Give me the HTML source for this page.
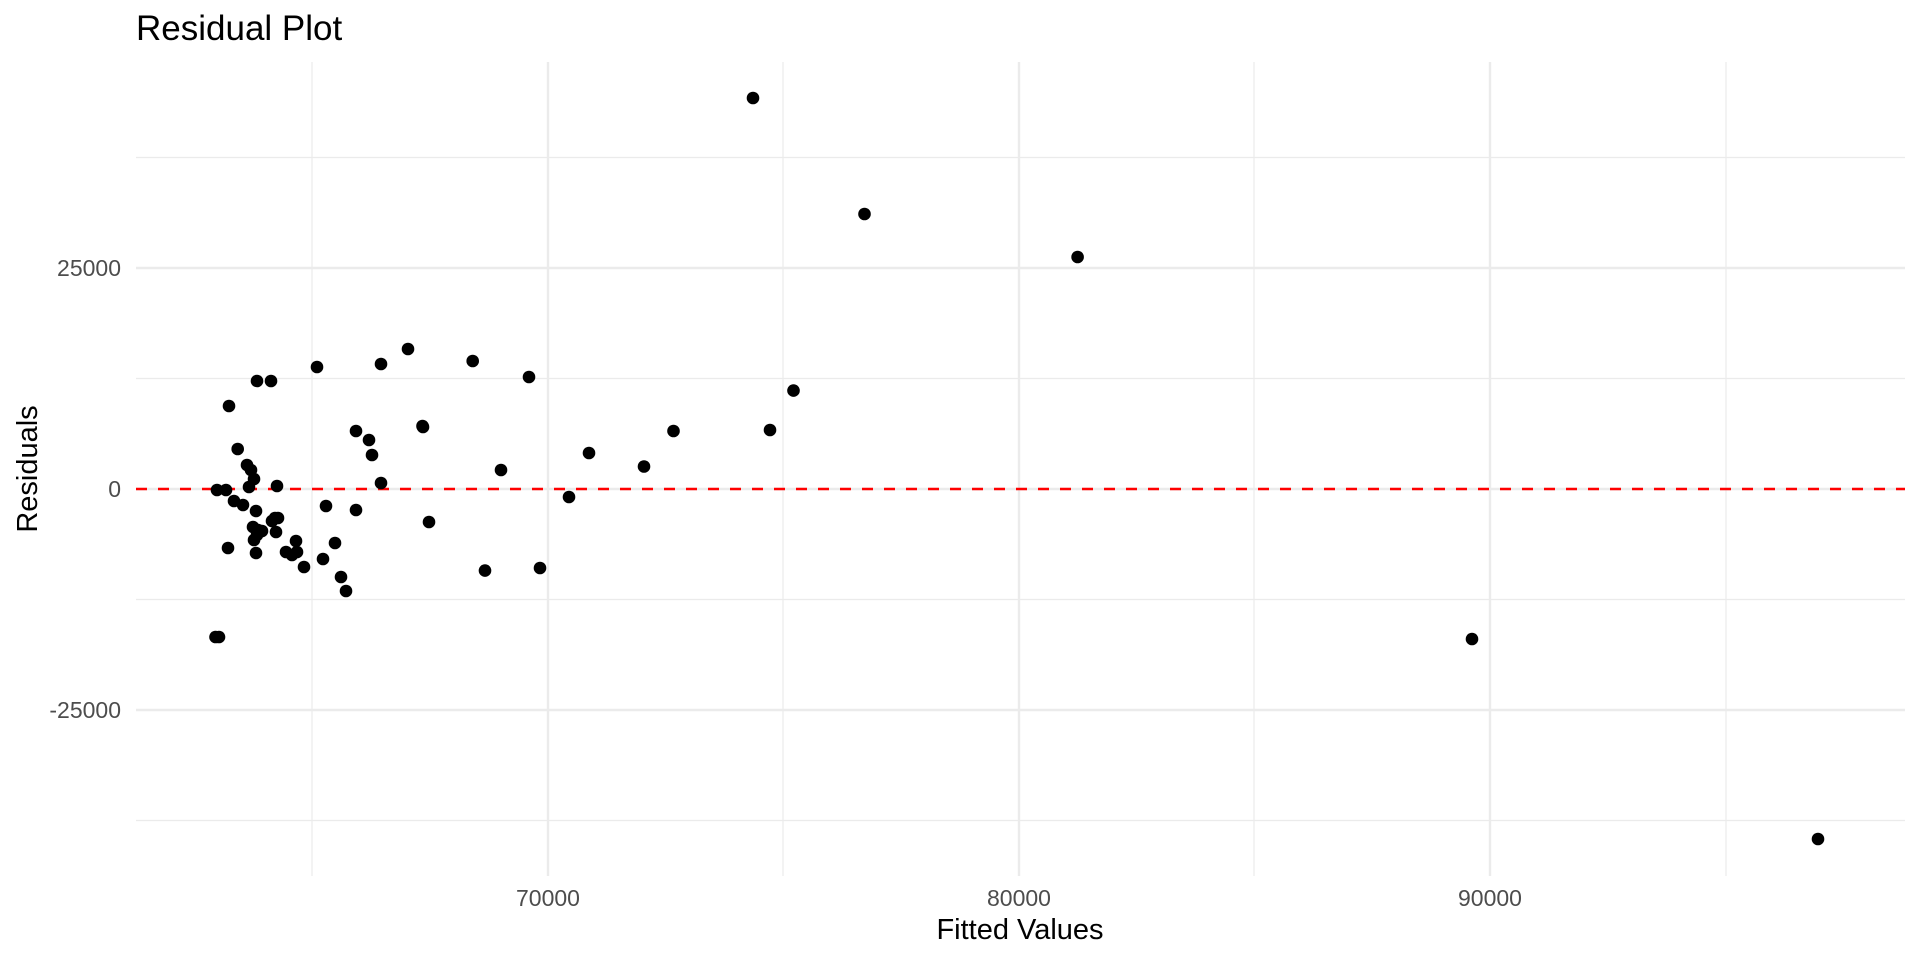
<!DOCTYPE html>
<html><head><meta charset="utf-8"><style>
html,body{margin:0;padding:0;background:#fff;}
svg{display:block;font-family:"Liberation Sans",Arial,sans-serif;}
</style></head><body>
<svg width="1920" height="960" viewBox="0 0 1920 960" xmlns="http://www.w3.org/2000/svg">
<rect width="1920" height="960" fill="#fff"/>
<g stroke="#ebebeb" stroke-width="1.2">
<line x1="136" x2="1905" y1="157.5" y2="157.5"/>
<line x1="136" x2="1905" y1="378.5" y2="378.5"/>
<line x1="136" x2="1905" y1="599.5" y2="599.5"/>
<line x1="136" x2="1905" y1="820.5" y2="820.5"/>
<line x1="312" x2="312" y1="62" y2="876"/>
<line x1="783" x2="783" y1="62" y2="876"/>
<line x1="1254" x2="1254" y1="62" y2="876"/>
<line x1="1726" x2="1726" y1="62" y2="876"/>
</g>
<g stroke="#ebebeb" stroke-width="2.4">
<line x1="136" x2="1905" y1="268" y2="268"/>
<line x1="136" x2="1905" y1="489" y2="489"/>
<line x1="136" x2="1905" y1="710" y2="710"/>
<line x1="548" x2="548" y1="62" y2="876"/>
<line x1="1019" x2="1019" y1="62" y2="876"/>
<line x1="1490" x2="1490" y1="62" y2="876"/>
</g>
<line x1="136" x2="1905" y1="489" y2="489" stroke="#ff0000" stroke-width="2.4" stroke-dasharray="11 11"/>
<g fill="#000">
<circle cx="753" cy="98" r="6.3"/><circle cx="864.5" cy="214" r="6.3"/><circle cx="1077.6" cy="257" r="6.3"/>
<circle cx="1818" cy="839" r="6.3"/><circle cx="1472" cy="639" r="6.3"/>
<circle cx="317" cy="367" r="6.3"/><circle cx="257" cy="381" r="6.3"/><circle cx="271" cy="381" r="6.3"/>
<circle cx="229" cy="406" r="6.3"/><circle cx="381" cy="364" r="6.3"/><circle cx="408" cy="349" r="6.3"/>
<circle cx="472.7" cy="361" r="6.3"/><circle cx="529" cy="377" r="6.3"/><circle cx="793.5" cy="390.6" r="6.3"/>
<circle cx="770" cy="430" r="6.3"/><circle cx="673.5" cy="431" r="6.3"/><circle cx="589" cy="453" r="6.3"/>
<circle cx="644" cy="466.5" r="6.3"/><circle cx="501" cy="470" r="6.3"/><circle cx="569" cy="497" r="6.3"/>
<circle cx="422.5" cy="426" r="6.3"/><circle cx="429" cy="522" r="6.3"/><circle cx="485" cy="570.6" r="6.3"/>
<circle cx="540" cy="568" r="6.3"/><circle cx="356" cy="431" r="6.3"/><circle cx="369" cy="440" r="6.3"/>
<circle cx="372" cy="455" r="6.3"/><circle cx="381" cy="483" r="6.3"/>
<circle cx="237.7" cy="449" r="6.3"/><circle cx="247" cy="465" r="6.3"/><circle cx="251" cy="470" r="6.3"/>
<circle cx="254" cy="479" r="6.3"/><circle cx="249" cy="487" r="6.3"/><circle cx="277" cy="486" r="6.3"/>
<circle cx="217" cy="490" r="6.3"/><circle cx="226" cy="490" r="6.3"/>
<circle cx="234" cy="501" r="6.3"/><circle cx="243" cy="505" r="6.3"/><circle cx="256" cy="511" r="6.3"/>
<circle cx="275" cy="518" r="6.3"/><circle cx="278" cy="518" r="6.3"/><circle cx="272" cy="521" r="6.3"/>
<circle cx="253" cy="527" r="6.3"/><circle cx="262" cy="531" r="6.3"/><circle cx="257" cy="535" r="6.3"/>
<circle cx="254" cy="540" r="6.3"/><circle cx="276" cy="532" r="6.3"/><circle cx="258" cy="530" r="6.3"/>
<circle cx="228" cy="548" r="6.3"/><circle cx="256" cy="553" r="6.3"/><circle cx="296" cy="541" r="6.3"/>
<circle cx="286" cy="552" r="6.3"/><circle cx="292" cy="555" r="6.3"/><circle cx="297" cy="552" r="6.3"/>
<circle cx="304" cy="567" r="6.3"/><circle cx="323" cy="559" r="6.3"/><circle cx="335" cy="543" r="6.3"/>
<circle cx="341" cy="577" r="6.3"/><circle cx="346" cy="591" r="6.3"/>
<circle cx="326" cy="506" r="6.3"/><circle cx="356" cy="510" r="6.3"/><circle cx="423" cy="427" r="6.3"/>
<circle cx="215.5" cy="637" r="6.3"/><circle cx="219" cy="637" r="6.3"/>
</g>
<text x="136" y="40" font-size="35" fill="#000">Residual Plot</text>
<g font-size="23" fill="#4d4d4d" text-anchor="end">
<text x="121" y="276">25000</text>
<text x="121" y="497">0</text>
<text x="121" y="718">-25000</text>
</g>
<g font-size="23" fill="#4d4d4d" text-anchor="middle">
<text x="548" y="906">70000</text>
<text x="1019" y="906">80000</text>
<text x="1490" y="906">90000</text>
</g>
<text x="1020" y="939" font-size="29" text-anchor="middle" fill="#000">Fitted Values</text>
<text transform="translate(37,469) rotate(-90)" font-size="29" text-anchor="middle" fill="#000">Residuals</text>
</svg>
</body></html>
